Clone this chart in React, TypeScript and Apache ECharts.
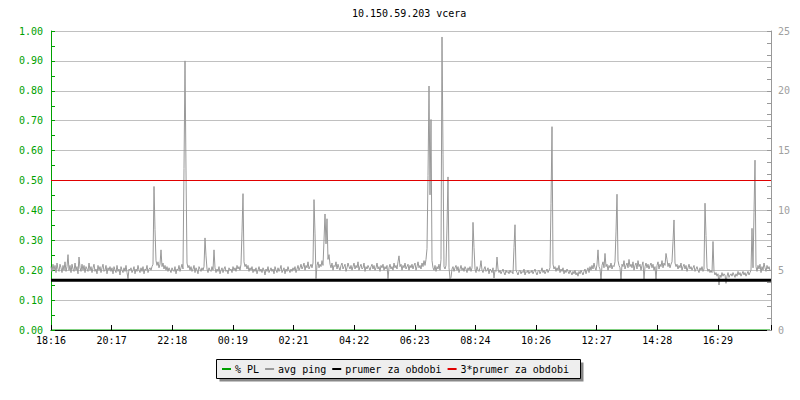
import React, { useEffect, useRef } from "react";
import * as echarts from "echarts";

const TITLE = "10.150.59.203 vcera";
const X_TICK_LABELS = ["18:16", "20:17", "22:18", "00:19", "02:21", "04:22", "06:23", "08:24", "10:26", "12:27", "14:28", "16:29"];
const X_TICK_STEP = 121.25; // minutes between labelled ticks
const X_MAX = 1440; // minutes in the period
const STEP_MINUTES = 2; // sampling step of the avg ping series

const LEFT_TICKS = { min: 0, max: 1, interval: 0.1 };
const RIGHT_TICKS = { min: 0, max: 25, interval: 5 };

const SERIES_NAMES = ["% PL", "avg ping", "prumer za obdobi", "3*prumer za obdobi"];

// packet loss (left axis, fraction) — zero for the whole period
const PL_TIMES = [0, 360, 720, 1080, 1438];
const PL_VALUES = [0, 0, 0, 0, 0];

// average ping (right axis, ms), one value every 2 minutes
const AVG_PING = [
  5.3, 4.9, 5.5, 5.0, 5.4, 4.8, 5.6, 5.1, 4.9, 5.5, 5.2, 4.8, 5.4, 5.0, 5.7, 4.9, 5.3, 6.3, 5.0, 5.4,
  4.8, 5.5, 5.1, 4.9, 5.6, 5.0, 5.3, 4.7, 6.1, 5.2, 4.9, 5.5, 5.0, 5.4, 4.8, 5.3, 5.1, 4.9, 5.6, 5.0,
  5.3, 4.8, 5.2, 5.5, 4.9, 5.1, 4.7, 5.4, 5.0, 5.3, 4.8, 5.2, 5.5, 4.9, 5.0, 5.4, 4.7, 5.2, 5.0, 5.3,
  4.9, 5.2, 4.7, 5.3, 5.0, 4.8, 5.4, 4.9, 5.1, 4.6, 5.3, 5.0, 4.8, 5.2, 4.9, 5.4, 4.8, 4.3, 5.1, 5.0,
  5.2, 4.8, 5.0, 5.3, 4.7, 5.1, 4.9, 5.4, 5.0, 4.8, 5.2, 4.9, 5.3, 4.7, 5.1, 5.0, 5.4, 4.8, 5.1, 5.2,
  5.0, 5.3, 5.5, 12.0, 8.4, 5.8, 5.4, 5.7, 5.2, 5.5, 6.7, 5.3, 5.6, 5.1, 5.4, 5.0, 5.3, 4.9, 5.2, 5.0,
  4.8, 5.2, 5.0, 4.9, 5.3, 4.7, 5.1, 5.0, 5.4, 4.9, 5.2, 5.5, 5.1, 13.5, 22.5, 13.3, 5.6, 5.2, 5.4, 5.0,
  5.3, 4.9, 5.1, 5.4, 4.8, 5.2, 5.0, 4.7, 5.3, 5.1, 4.9, 5.2, 5.0, 5.3, 7.7, 6.2, 5.1, 4.8, 5.2, 5.0,
  4.9, 5.3, 5.0, 6.7, 5.2, 4.8, 5.1, 4.9, 5.3, 4.7, 5.0, 5.2, 4.8, 5.1, 5.3, 4.9, 5.0, 4.7, 5.2, 5.0,
  5.1, 4.8, 5.3, 5.0, 5.2, 4.9, 5.4, 5.1, 5.3, 5.0, 5.5, 8.2, 11.4, 5.7, 5.3, 5.5, 5.1, 5.4, 4.9, 5.2,
  5.0, 5.3, 4.8, 5.1, 4.9, 5.2, 4.7, 5.0, 5.3, 4.9, 5.1, 4.8, 5.2, 5.0, 4.6, 5.1, 4.9, 5.3, 4.8, 5.0,
  5.2, 4.9, 5.1, 4.7, 5.3, 5.0, 4.8, 5.2, 4.9, 5.1, 5.4, 4.8, 5.0, 5.2, 4.7, 5.1, 4.9, 5.3, 5.0, 4.8,
  5.1, 4.9, 5.2, 5.0, 5.3, 4.8, 5.1, 5.4, 5.0, 5.2, 5.5, 5.1, 5.3, 5.6, 5.0, 5.4, 5.2, 5.7, 5.1, 5.3,
  5.5, 5.2, 5.6, 10.9, 8.1, 4.3, 5.4, 5.7, 5.2, 5.5, 5.3, 5.8, 5.4, 7.5, 9.7, 7.2, 9.3, 5.9, 6.3, 5.5,
  5.2, 5.6, 5.0, 5.4, 5.3, 5.7, 5.1, 5.5, 5.2, 5.0, 5.4, 5.6, 5.1, 5.3, 5.5, 4.9, 5.2, 5.6, 5.3, 5.1,
  5.4, 5.0, 5.3, 5.6, 5.1, 5.4, 5.2, 5.7, 5.0, 5.3, 5.5, 5.1, 5.2, 5.6, 4.9, 5.3, 5.1, 5.4, 5.2, 5.0,
  5.3, 5.5, 5.1, 5.4, 5.0, 5.2, 5.6, 5.1, 5.3, 4.9, 5.4, 5.2, 5.5, 5.0, 5.3, 5.1, 5.4, 4.3, 5.2, 5.5,
  5.1, 5.3, 5.0, 5.6, 5.2, 5.4, 5.1, 5.7, 6.2, 5.3, 5.5, 5.0, 5.4, 5.2, 5.6, 5.1, 5.3, 5.5, 5.0, 5.4,
  5.2, 5.5, 5.1, 5.4, 5.6, 5.0, 5.3, 5.7, 5.2, 5.4, 5.1, 5.6, 5.3, 5.8, 5.4, 5.9, 6.8, 12.9, 20.4, 11.3,
  17.6, 5.8, 5.2, 5.0, 5.4, 4.9, 5.3, 5.1, 5.5, 5.0, 5.9, 24.5, 14.7, 5.3, 5.1, 5.4, 8.7, 12.8, 5.2, 4.3,
  4.4, 5.1, 5.3, 4.9, 5.2, 5.4, 5.0, 5.3, 4.8, 5.1, 5.4, 5.0, 5.2, 4.9, 5.3, 5.1, 4.8, 5.2, 5.0, 5.3,
  4.9, 5.2, 9.0, 6.9, 5.1, 4.8, 5.3, 5.0, 4.9, 5.2, 5.8, 5.0, 4.8, 5.1, 5.3, 4.9, 5.0, 5.2, 4.7, 5.1,
  5.0, 4.8, 5.2, 4.35, 5.0, 4.9, 6.1, 5.1, 4.8, 5.0, 4.7, 4.9, 5.1, 4.8, 4.6, 5.0, 4.8, 4.9, 4.7, 5.0,
  4.8, 4.9, 4.7, 6.9, 8.8, 5.0, 4.8, 4.6, 4.9, 5.0, 4.7, 4.9, 4.8, 5.1, 4.6, 4.9, 4.8, 5.0, 4.7, 4.9,
  4.8, 5.0, 4.7, 4.9, 5.1, 4.8, 4.6, 4.9, 5.0, 4.7, 4.9, 5.2, 4.8, 5.0, 4.7, 4.9, 5.1, 4.8, 5.0, 5.2,
  10.6, 17.0, 5.5, 5.1, 5.3, 4.9, 5.2, 5.0, 5.4, 4.8, 5.1, 4.9, 5.2, 4.7, 5.0, 4.8, 5.1, 4.9, 4.7, 5.0,
  4.8, 4.6, 4.9, 4.7, 5.0, 4.6, 4.8, 4.5, 4.9, 4.7, 5.0, 4.8, 4.6, 4.9, 5.1, 4.7, 5.0, 5.2, 4.8, 5.3,
  5.0, 5.4, 5.1, 5.6, 5.2, 5.0, 5.5, 6.7, 5.3, 5.1, 4.2, 5.4, 5.7, 5.2, 6.4, 5.3, 5.5, 5.0, 5.4, 5.2,
  5.6, 5.1, 5.4, 5.3, 5.7, 8.2, 11.35, 5.8, 5.4, 5.2, 4.2, 5.5, 5.3, 5.8, 5.1, 5.4, 5.6, 5.2, 5.9, 5.3,
  5.5, 5.2, 5.7, 5.0, 5.4, 5.6, 5.1, 5.8, 5.3, 5.5, 5.0, 5.4, 5.7, 4.2, 5.3, 5.6, 5.2, 5.5, 5.1, 5.4,
  5.6, 5.2, 5.5, 5.0, 5.3, 4.2, 5.4, 5.7, 5.1, 5.5, 5.3, 5.8, 5.2, 5.6, 5.4, 6.4, 5.9, 5.3, 5.6, 5.2,
  5.5, 5.7, 7.4, 9.2, 5.6, 5.3, 5.5, 5.1, 5.4, 5.2, 5.6, 5.0, 5.3, 5.5, 5.1, 5.4, 4.9, 5.2, 5.5, 5.1,
  5.3, 5.0, 5.2, 5.4, 4.9, 5.1, 5.3, 5.0, 4.8, 5.2, 5.0, 5.3, 4.9, 5.1, 10.6, 7.9, 5.2, 4.9, 5.1, 4.8,
  5.0, 4.8, 7.4, 4.9, 4.6, 4.8, 4.5, 4.7, 3.76, 4.6, 4.4, 4.8, 4.5, 4.7, 4.6, 3.9, 4.5, 4.8, 4.4, 4.6,
  4.7, 4.5, 4.8, 4.6, 4.4, 4.7, 4.5, 4.9, 4.6, 4.8, 4.5, 4.7, 4.9, 4.6, 4.8, 4.5, 4.7, 4.9, 4.6, 4.8,
  5.0, 8.5, 5.2, 9.8, 14.2, 5.3, 4.9, 5.4, 5.1, 5.5, 4.8, 5.3, 5.0, 5.6, 5.2, 4.9, 5.4, 5.1, 5.3, 5.0,
];

// period average and its triple (right axis, ms)
const PRUMER = 4.17;
const PRUMER_3X = 12.5;

const COLORS = ["#00a000", "#999999", "#000000", "#e00000"];
const MONO = "'DejaVu Sans Mono', monospace";

export default function App() {
  const ref = useRef<HTMLDivElement>(null);

  useEffect(() => {
    if (!ref.current) return;
    const chart = echarts.init(ref.current, null, { renderer: "svg" });

    const pingData = AVG_PING.map((v, i) => [i * STEP_MINUTES, v]);
    const plData = PL_TIMES.map((t, i) => [t, PL_VALUES[i]]);

    chart.setOption({
      animation: false,
      color: COLORS,
      title: {
        text: TITLE,
        left: 352,
        top: 8,
        padding: 0,
        textStyle: { fontFamily: MONO, fontSize: 10, fontWeight: "normal", color: "#000" },
      },
      graphic: [
        { type: "rect", shape: { x: 219.5, y: 362.5, width: 364, height: 19 }, style: { fill: "#888888" }, z: 0 },
        {
          type: "rect",
          shape: { x: 216.5, y: 359.5, width: 364, height: 19 },
          style: { fill: "#eeeeee", stroke: "#000", lineWidth: 1 },
          z: 1,
        },
      ],
      legend: {
        left: 222,
        top: 363,
        padding: 0,
        itemGap: 6,
        itemWidth: 9,
        itemHeight: 2,
        icon: "rect",
        z: 10,
        textStyle: { fontFamily: MONO, fontSize: 10, color: "#000", lineHeight: 12, padding: [0, 0, 0, -1] },
        data: SERIES_NAMES,
      },
      grid: { left: 51, right: 29, top: 31, bottom: 70, containLabel: false },
      xAxis: {
        type: "value",
        min: 0,
        max: X_MAX,
        interval: X_TICK_STEP,
        z: 2,
        axisLine: { show: true, lineStyle: { color: "#000", width: 1 } },
        axisTick: { show: true, inside: true, length: 5, lineStyle: { color: "#000" } },
        splitLine: { show: false },
        axisLabel: {
          margin: 5,
          fontFamily: MONO,
          fontSize: 10,
          color: "#000",
          formatter: (v: number) => {
            const k = Math.round(v / X_TICK_STEP);
            return Math.abs(v - k * X_TICK_STEP) < 0.01 && X_TICK_LABELS[k] ? X_TICK_LABELS[k] : "";
          },
        },
      },
      yAxis: [
        {
          type: "value",
          position: "left",
          min: LEFT_TICKS.min,
          max: LEFT_TICKS.max,
          interval: LEFT_TICKS.interval,
          z: 2,
          axisLine: { show: true, lineStyle: { color: "#00a000", width: 1 } },
          axisTick: { show: true, inside: true, length: 4, lineStyle: { color: "#00a000" } },
          minorTick: { show: true, splitNumber: 2, length: 4, lineStyle: { color: "#00a000" } },
          splitLine: { show: true, lineStyle: { color: "#c0c0c0", width: 1 } },
          axisLabel: {
            margin: 8,
            fontFamily: MONO,
            fontSize: 10,
            color: "#00a000",
            formatter: (v: number) => v.toFixed(2),
          },
        },
        {
          type: "value",
          position: "right",
          min: RIGHT_TICKS.min,
          max: RIGHT_TICKS.max,
          interval: RIGHT_TICKS.interval,
          z: 2,
          axisLine: { show: true, lineStyle: { color: "#999999", width: 1 } },
          axisTick: { show: true, inside: true, length: 4, lineStyle: { color: "#999999" } },
          minorTick: { show: true, splitNumber: 5, length: 4, lineStyle: { color: "#999999" } },
          splitLine: { show: false },
          axisLabel: { margin: 7, fontFamily: MONO, fontSize: 10, color: "#a0a0a0" },
        },
      ],
      series: [
        {
          name: SERIES_NAMES[0],
          type: "line",
          yAxisIndex: 0,
          data: plData,
          showSymbol: false,
          z: 1,
          lineStyle: { color: COLORS[0], width: 1 },
          itemStyle: { color: COLORS[0] },
        },
        {
          name: SERIES_NAMES[1],
          type: "line",
          yAxisIndex: 1,
          data: pingData,
          showSymbol: false,
          z: 3,
          lineStyle: { color: COLORS[1], width: 1 },
          itemStyle: { color: COLORS[1] },
        },
        {
          name: SERIES_NAMES[2],
          type: "line",
          yAxisIndex: 1,
          data: [[0, PRUMER], [X_MAX, PRUMER]],
          showSymbol: false,
          z: 4,
          lineStyle: { color: COLORS[2], width: 3 },
          itemStyle: { color: COLORS[2] },
        },
        {
          name: SERIES_NAMES[3],
          type: "line",
          yAxisIndex: 1,
          data: [[0, PRUMER_3X], [X_MAX, PRUMER_3X]],
          showSymbol: false,
          z: 4,
          lineStyle: { color: COLORS[3], width: 1 },
          itemStyle: { color: COLORS[3] },
        },
      ],
    });

    return () => chart.dispose();
  }, []);

  return (
    <div
      ref={ref}
      style={{ position: "absolute", left: 0, top: 0, width: 800, height: 400, background: "#fff" }}
    />
  );
}
